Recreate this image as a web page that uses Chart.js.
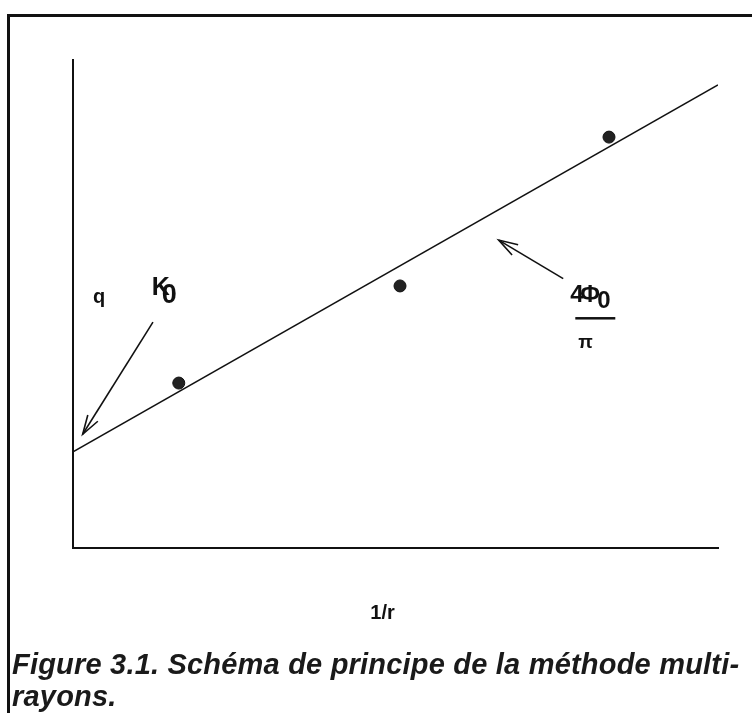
<!DOCTYPE html>
<html>
<head>
<meta charset="utf-8">
<script src="https://cdn.jsdelivr.net/npm/chart.js@4.4.1/dist/chart.umd.min.js"></script>
<style>
  html, body { margin: 0; padding: 0; background: #fff; }
  #wrap { position: relative; width: 752px; height: 713px; overflow: hidden; }
  #frame { position: absolute; left: 7px; top: 14px; width: 760px; height: 720px;
           border-left: 3px solid #111; border-top: 3px solid #111; }
  #chartBox { position: absolute; left: 0; top: 0; width: 752px; height: 713px; }
  #caption { position: absolute; left: 12px; top: 648px; width: 740px;
             font-family: "Liberation Sans", Arial, sans-serif; font-weight: bold; font-style: italic;
             font-size: 29px; letter-spacing: 0.2px; line-height: 32px; color: #1a1a1a; white-space: nowrap; }
</style>
</head>
<body>
<div id="wrap">
  <div id="frame"></div>
  <div id="chartBox"><canvas id="myChart"></canvas></div>
  <div id="caption">Figure 3.1. Schéma de principe de la méthode multi-<br>rayons.</div>
</div>
<script>
// measured points (1/r, q)
const pointX = [1.64, 5.07, 8.31];
const pointY = [3.38, 5.37, 8.42];
// fitted line end points
const lineX = [0, 10];
const lineY = [1.97, 9.49];
const xRange = [0, 10];
const yRange = [0, 10];

// arrows and labels in data units
const arrows = [
  { from: [1.24, 4.63], to: [0.15, 2.33] },
  { from: [7.60, 5.52], to: [6.60, 6.31] }
];

const labelsPlugin = {
  id: "labels",
  afterDraw(chart) {
    const c = chart.ctx;
    const xs = chart.scales.x, ys = chart.scales.y;
    c.save();
    c.strokeStyle = "#111";
    c.fillStyle = "#111";
    c.lineWidth = 1.6;
    arrows.forEach(function (a) {
      const x1 = xs.getPixelForValue(a.from[0]), y1 = ys.getPixelForValue(a.from[1]);
      const x2 = xs.getPixelForValue(a.to[0]), y2 = ys.getPixelForValue(a.to[1]);
      const ang = Math.atan2(y2 - y1, x2 - x1);
      c.beginPath();
      c.moveTo(x1, y1);
      c.lineTo(x2, y2);
      c.stroke();
      const len = 20, spread = 0.3;
      c.beginPath();
      c.moveTo(x2 - len * Math.cos(ang - spread), y2 - len * Math.sin(ang - spread));
      c.lineTo(x2, y2);
      c.lineTo(x2 - len * Math.cos(ang + spread), y2 - len * Math.sin(ang + spread));
      c.stroke();
    });

    const font = '"Liberation Sans", Arial, sans-serif';
    c.textBaseline = "alphabetic";
    c.textAlign = "left";
    // q
    c.font = "bold 20px " + font;
    c.fillText("q", xs.left + 20, ys.getPixelForValue(5.03));
    // K0
    const kx = xs.getPixelForValue(1.22), ky = ys.getPixelForValue(5.18);
    c.font = "bold 25px " + font;
    c.fillText("K", kx, ky);
    c.font = "bold 27px " + font;
    c.fillText("0", kx + 10, ky + 8);
    // 4Φ0 / π
    const fx = xs.getPixelForValue(7.71);
    const fy = ys.getPixelForValue(5.04);
    c.font = "bold 24px " + font;
    c.fillText("4", fx, fy);
    c.fillText("Φ", fx + 10, fy);
    c.fillText("0", fx + 27, fy + 6);
    c.fillRect(fx + 5, fy + 15, 40, 2.5);
    c.font = "bold 19px " + font;
    c.fillText("π", fx + 8, fy + 46);
    // axis title
    c.font = "bold 20px " + font;
    c.textAlign = "center";
    c.fillText("1/r", xs.getPixelForValue(4.8), ys.bottom + 71);
    c.restore();
  }
};

const ctx = document.getElementById("myChart").getContext("2d");
const myChart = new Chart(ctx, {
  type: "scatter",
  data: {
    datasets: [
      {
        label: "line",
        data: lineX.map((x, i) => ({ x: x, y: lineY[i] })),
        showLine: true,
        borderColor: "#111",
        borderWidth: 1.6,
        pointRadius: 0
      },
      {
        label: "points",
        data: pointX.map((x, i) => ({ x: x, y: pointY[i] })),
        backgroundColor: "#222",
        borderColor: "#111",
        borderWidth: 1,
        pointRadius: 6
      }
    ]
  },
  options: {
    responsive: true,
    maintainAspectRatio: false,
    animation: false,
    layout: { padding: { left: 73, top: 60, right: 34, bottom: 165 } },
    plugins: { legend: { display: false }, tooltip: { enabled: false } },
    scales: {
      x: {
        type: "linear",
        min: xRange[0], max: xRange[1],
        grid: { display: false, drawTicks: false },
        ticks: { display: false },
        border: { display: true, color: "#111", width: 2 }
      },
      y: {
        type: "linear",
        min: yRange[0], max: yRange[1],
        grid: { display: false, drawTicks: false },
        ticks: { display: false },
        border: { display: true, color: "#111", width: 2 }
      }
    }
  },
  plugins: [labelsPlugin]
});
</script>
</body>
</html>
